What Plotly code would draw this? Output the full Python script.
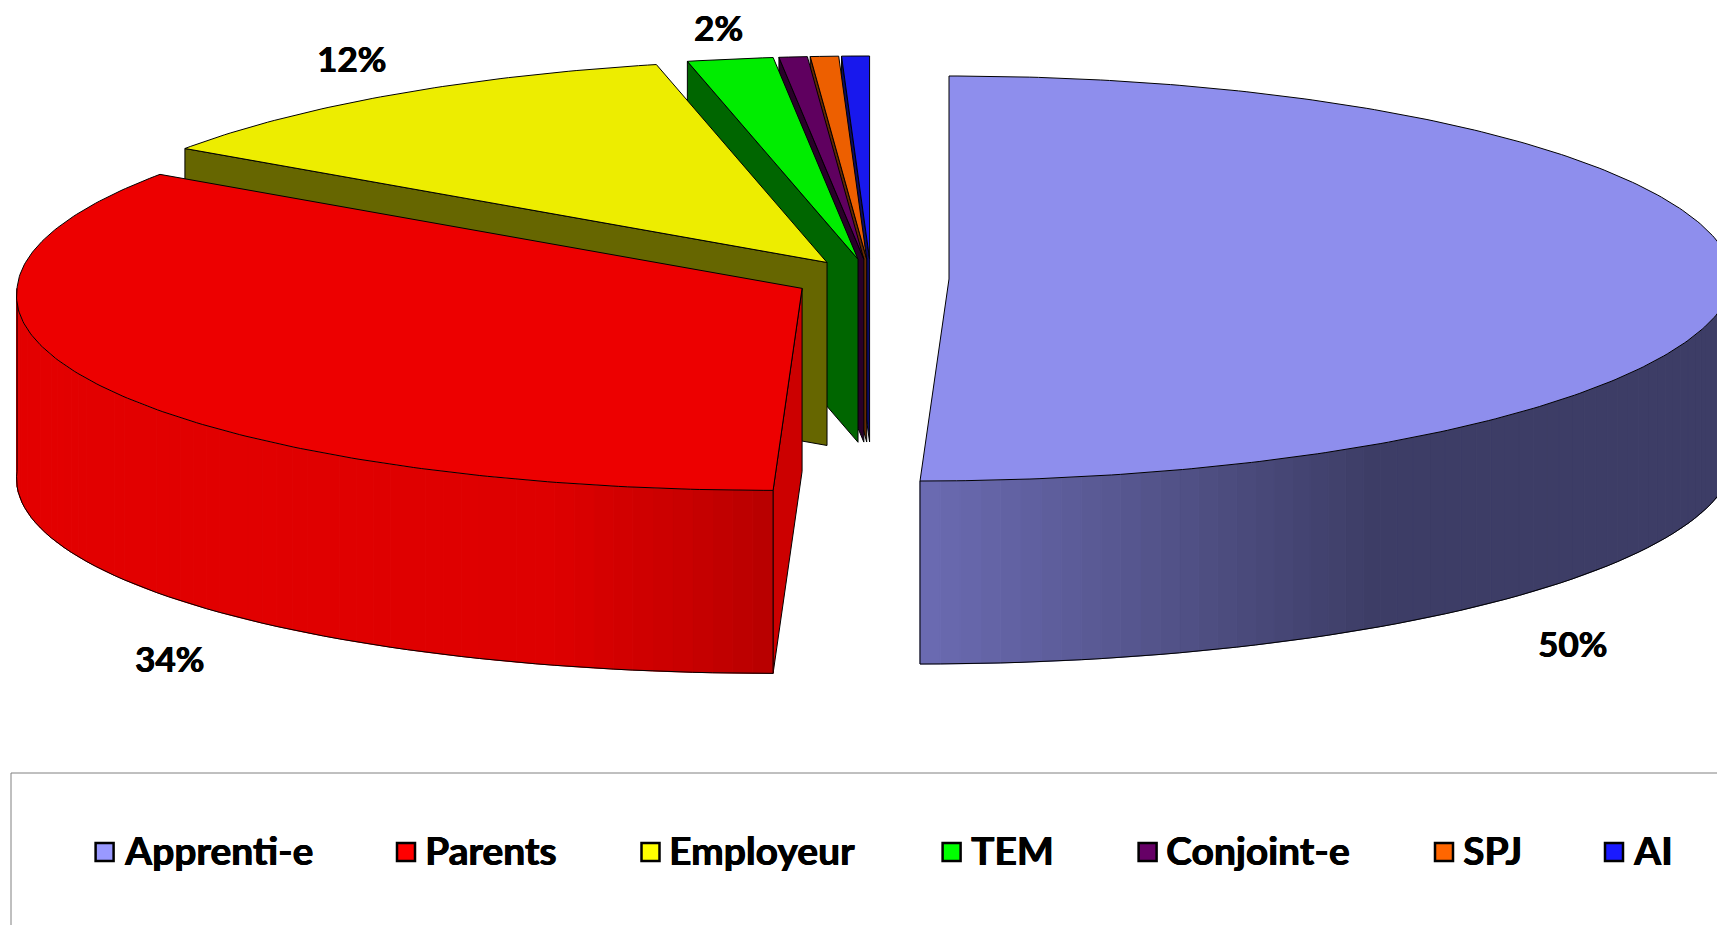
import numpy as np
import plotly.graph_objects as go

# ---- data ----
categories = ["Apprenti-e", "Parents", "Employeur", "TEM", "Conjoint-e", "SPJ", "AI"]
values = [50.0, 34.49, 11.95, 1.8, 0.59, 0.59, 0.58]
legend_colors = ["#9999ff", "#ff0000", "#ffff00", "#00ff00", "#660066", "#ff6600", "#1a1aff"]
shown_labels = [True, True, True, True, False, False, False]

# ---- layout / style, in page pixels ----
W, H = 1717, 925
CX, CY = 871, 279          # pie centre before explosion
PULL_X, PULL_Y = 78, 20    # explosion
RX_BACK, RX_FRONT = 769, 785
RY_BACK, RY_FRONT = 203, 202
SHEAR = 29                 # horizontal lean of the near half
DEPTH = 183
TOP_K, DARK_K, INNER_K = 0.93, 0.40, 0.80
SHADE_X = [17, 550, 680, 772, 920, 1370]
SHADE_K = [0.89, 0.87, 0.79, 0.72, 0.70, 0.40]
LABEL_POS = [(1572, 643), (169, 658), (351, 58), (718, 27)]
LEGEND_SWATCH_X = [104.6, 406, 650.5, 951.6, 1147.6, 1444, 1614]
LEGEND_TEXT_X = [123.7, 425, 669, 971, 1166, 1463, 1633]
LEGEND_Y = 852
LEGEND_TEXT_Y = 850
FONT = "Lato"
HEAVY = "0.6px 0 0 black, -0.3px 0 0 black"


def shade(color, k):
    r, g, b = (int(color[i:i + 2], 16) for i in (1, 3, 5))
    return f"rgb({round(r * k)},{round(g * k)},{round(b * k)})"


total = sum(values)
edges = np.concatenate([[0], np.cumsum(values)]) / total * 360.0


def apex(mid_deg):
    m = np.radians(mid_deg)
    return CX + PULL_X * np.sin(m), CY - PULL_Y * np.cos(m)


def rim(ax, ay, deg):
    a = np.radians(np.asarray(deg, dtype=float))
    s, c = np.sin(a), np.cos(a)
    rx = RX_FRONT - (RX_FRONT - RX_BACK) * np.maximum(c, 0)
    ry = np.where(c >= 0, RY_BACK, RY_FRONT)
    x = ax + rx * s + SHEAR * np.minimum(c, 0)
    y = ay - ry * c
    return x, y


fig = go.Figure()


def poly(x, y, fill, line="black", width=1):
    fig.add_trace(go.Scatter(x=list(x), y=list(y), mode="lines", fill="toself", fillcolor=fill,
                             line=dict(color=line, width=width), hoverinfo="skip", showlegend=False))


# far slices first, Apprenti-e last
for i in [6, 5, 4, 3, 2, 1, 0]:
    a0, a1 = edges[i], edges[i + 1]
    col = legend_colors[i]
    ax, ay = apex((a0 + a1) / 2)
    arc = np.linspace(a0, a1, max(int((a1 - a0) * 1.5), 4))
    rx_, ry_ = rim(ax, ay, arc)

    # radial wall at the start edge (left half of the pie only)
    if a0 > 179:
        sx, sy = rim(ax, ay, [a0])
        k = INNER_K if i == 1 else DARK_K
        poly([ax, ax, sx[0], sx[0], ax], [ay, ay + DEPTH, sy[0] + DEPTH, sy[0], ay], shade(col, k))

    # curved wall, near half only
    lo, hi = max(a0, 90), min(a1, 270)
    if hi > lo:
        wall = np.linspace(lo, hi, int((hi - lo) / 1.5) + 2)
        wx, wy = rim(ax, ay, wall)
        for j in range(len(wall) - 1):
            k = float(np.interp((wx[j] + wx[j + 1]) / 2, SHADE_X, SHADE_K))
            c = shade(col, k)
            poly([wx[j], wx[j + 1], wx[j + 1], wx[j], wx[j]],
                 [wy[j], wy[j + 1], wy[j + 1] + DEPTH, wy[j] + DEPTH, wy[j]], c, line=c, width=1)
        fig.add_trace(go.Scatter(x=list(wx), y=list(wy + DEPTH), mode="lines",
                                 line=dict(color="black", width=1), hoverinfo="skip", showlegend=False))
        for end in (0, -1):
            fig.add_trace(go.Scatter(x=[wx[end], wx[end]], y=[wy[end], wy[end] + DEPTH], mode="lines",
                                     line=dict(color="black", width=1), hoverinfo="skip", showlegend=False))

    # top face
    poly([ax] + list(rx_) + [ax], [ay] + list(ry_) + [ay], shade(col, TOP_K))

# percentage labels
annotations = []
lab_idx = [i for i, s in enumerate(shown_labels) if s]
for i, (lx, ly) in zip(lab_idx, LABEL_POS):
    annotations.append(dict(x=lx, y=ly, xref="x", yref="y", showarrow=False, xanchor="center", yanchor="middle",
                            text=f"{round(values[i] / total * 100)}%",
                            font=dict(family=FONT, size=35, color="black", weight=700, shadow=HEAVY)))

# legend
for name, col, sx, tx in zip(categories, legend_colors, LEGEND_SWATCH_X, LEGEND_TEXT_X):
    fig.add_trace(go.Scatter(x=[sx], y=[LEGEND_Y], mode="markers", name=name, hoverinfo="skip", showlegend=False,
                             marker=dict(symbol="square", size=18, color=col, line=dict(color="black", width=2.5))))
    annotations.append(dict(x=tx, y=LEGEND_TEXT_Y, xref="x", yref="y", showarrow=False, xanchor="left", yanchor="middle",
                            xshift=-2, text=name, font=dict(family=FONT, size=39, color="black", weight=700, shadow=HEAVY)))

fig.update_layout(
    width=W, height=H, margin=dict(l=0, r=0, t=0, b=0), paper_bgcolor="white", plot_bgcolor="white",
    xaxis=dict(range=[0, W], visible=False, fixedrange=True),
    yaxis=dict(range=[H, 0], visible=False, fixedrange=True),
    annotations=annotations,
    shapes=[dict(type="rect", xref="x", yref="y", x0=11, y0=773, x1=W + 40, y1=H + 40,
                 line=dict(color="#808080", width=1), fillcolor="rgba(0,0,0,0)", layer="below")],
)

fig.write_html("out.html", post_script="document.body.style.margin='0';document.body.style.overflow='hidden';",
               config=dict(displayModeBar=False))
